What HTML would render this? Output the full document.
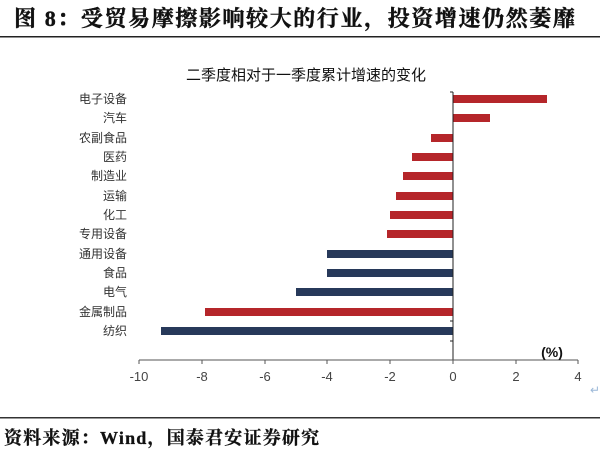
<!DOCTYPE html>
<html><head><meta charset="utf-8"><style>
body{margin:0;background:#fff;width:600px;height:451px;overflow:hidden}
</style></head><body>
<svg width="600" height="451" xmlns="http://www.w3.org/2000/svg" font-family="Liberation Sans, Noto Sans CJK SC, sans-serif">
<text x="14" y="26" font-size="22" font-weight="bold" letter-spacing="1.6" font-family="Liberation Serif, Noto Serif CJK SC, serif" fill="#111" stroke="#111" stroke-width="0.4">图 8：受贸易摩擦影响较大的行业，投资增速仍然萎靡</text>
<rect x="0" y="36" width="600" height="1.5" fill="#222"/>
<text x="306" y="80" font-size="15" text-anchor="middle" fill="#111">二季度相对于一季度累计增速的变化</text>
<g font-size="12" fill="#333" text-anchor="end">
<text x="127" y="103">电子设备</text><text x="127" y="122">汽车</text><text x="127" y="142">农副食品</text>
<text x="127" y="161">医药</text><text x="127" y="180">制造业</text><text x="127" y="200">运输</text>
<text x="127" y="219">化工</text><text x="127" y="238">专用设备</text><text x="127" y="258">通用设备</text>
<text x="127" y="277">食品</text><text x="127" y="296">电气</text><text x="127" y="316">金属制品</text>
<text x="127" y="335">纺织</text></g>
<g fill="#b5262a">
<rect x="453" y="95" width="94" height="8"/><rect x="453" y="114" width="37" height="8"/>
<rect x="431" y="134" width="22" height="8"/><rect x="412" y="153" width="41" height="8"/>
<rect x="403" y="172" width="50" height="8"/><rect x="396" y="192" width="57" height="8"/>
<rect x="390" y="211" width="63" height="8"/><rect x="387" y="230" width="66" height="8"/>
<rect x="205" y="308" width="248" height="8"/></g>
<g fill="#27395a">
<rect x="327" y="250" width="126" height="8"/><rect x="327" y="269" width="126" height="8"/>
<rect x="296" y="288" width="157" height="8"/><rect x="161" y="327" width="292" height="8"/></g>
<line x1="453" y1="92" x2="453" y2="360" stroke="#222" stroke-width="1"/>
<g stroke="#222"><line x1="450" y1="341" x2="453" y2="341"/><line x1="450" y1="321" x2="453" y2="321"/><line x1="450" y1="92" x2="453" y2="92"/></g>
<line x1="139" y1="360" x2="578" y2="360" stroke="#555" stroke-width="1"/>
<g stroke="#555"><line x1="139" y1="360" x2="139" y2="364"/><line x1="202" y1="360" x2="202" y2="364"/><line x1="265" y1="360" x2="265" y2="364"/><line x1="327" y1="360" x2="327" y2="364"/><line x1="390" y1="360" x2="390" y2="364"/><line x1="453" y1="360" x2="453" y2="364"/><line x1="516" y1="360" x2="516" y2="364"/><line x1="578" y1="360" x2="578" y2="364"/></g>
<g font-size="13" fill="#444" text-anchor="middle">
<text x="139" y="381">-10</text><text x="202" y="381">-8</text><text x="265" y="381">-6</text><text x="327" y="381">-4</text><text x="390" y="381">-2</text><text x="453" y="381">0</text><text x="516" y="381">2</text><text x="578" y="381">4</text></g>
<text x="552" y="357" font-size="14" font-weight="bold" text-anchor="middle" fill="#111">(%)</text>
<text x="595" y="394" font-size="12" fill="#9bb8d8" text-anchor="middle">↵</text>
<rect x="0" y="417" width="600" height="1.5" fill="#333"/>
<text x="4" y="444" font-size="18" font-weight="bold" letter-spacing="1.2" font-family="Liberation Serif, Noto Serif CJK SC, serif" fill="#111" stroke="#111" stroke-width="0.3">资料来源：Wind，国泰君安证券研究</text>
</svg>
</body></html>
